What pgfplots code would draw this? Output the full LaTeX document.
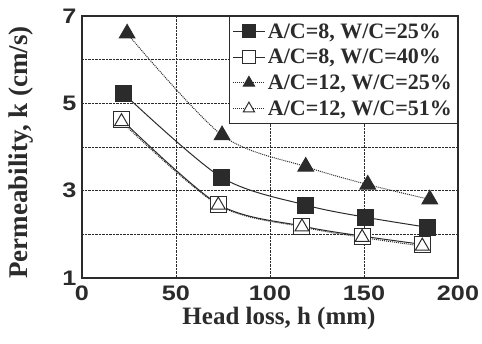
\documentclass[border=0pt]{standalone}
\usepackage{fontspec}
\setmainfont{Liberation Serif}
\newfontfamily\tickf{Liberation Sans}[FakeStretch=1.2]
\newfontfamily\legb{Liberation Serif}[UprightFont={* Bold}]
\usepackage{pgfplots}
\pgfplotsset{compat=1.18}
\definecolor{ink}{gray}{0.17}

\begin{document}
\begin{tikzpicture}
\begin{axis}[
  scale only axis, width=376pt, height=262pt,
  xmin=0, xmax=200, ymin=1, ymax=7,
  xtick={0,50,100,150,200}, ytick={1,3,5,7}, minor ytick={2,4,6},
  grid=both,
  major grid style={ink, densely dotted, line width=0.8pt},
  minor grid style={ink, densely dotted, line width=0.8pt},
  major tick length=0pt, minor tick length=0pt,
  axis line style={ink, line width=1.5pt},
  /pgf/number format/assume math mode=true,
  tick label style={font=\tickf\bfseries\fontsize{21}{21}\selectfont, text=ink},
  xticklabel style={yshift=-4pt},
  yticklabel style={xshift=-2pt},
  xlabel={Head loss, h (mm)}, ylabel={Permeability, k (cm/s)},
  every axis x label/.style={at={(axis description cs:0.524,-0.153)}, anchor=center,
    font=\bfseries\fontsize{25}{25}\selectfont, text=ink},
  every axis y label/.style={at={(axis description cs:-0.162,0.479)}, rotate=90, anchor=center,
    font=\bfseries\fontsize{27}{27}\selectfont, text=ink},
  legend style={at={(rel axis cs:1,1)}, anchor=north east, draw=ink, line width=1.2pt,
    font=\legb\fontsize{22}{22}\selectfont, text=ink,
    nodes={inner xsep=2.5pt, inner ysep=4.8pt}, row sep=0pt, inner xsep=3pt, inner ysep=2pt},
  legend cell align=left,
  legend image code/.code={\draw[mark repeat=2,mark phase=2, mark size=6.5pt] plot coordinates {(0pt,0pt) (16pt,0pt) (32pt,0pt)};},
]
\addplot[ink, line width=1pt, smooth, mark=square*, mark size=8pt, mark options={solid, fill=ink}]
  coordinates {(22,5.23) (74,3.31) (119,2.67) (151,2.39) (184,2.16)};
\addlegendentry{A/C=8, W/C=25\%}
\addplot[ink, line width=1pt, smooth, mark=square*, mark size=8pt, mark options={solid, fill=white}]
  coordinates {(21,4.63) (72.5,2.69) (117,2.19) (149,1.96) (181,1.77)};
\addlegendentry{A/C=8, W/C=40\%}
\addplot[ink, line width=1pt, densely dotted, smooth, mark=triangle*, mark size=9pt, mark options={solid, fill=ink}]
  coordinates {(24,6.6) (74.5,4.27) (119,3.55) (152,3.14) (185,2.80)};
\addlegendentry{A/C=12, W/C=25\%}
\addplot[ink, line width=1pt, densely dotted, smooth, mark=triangle*, mark size=8pt, mark options={solid, fill=white}]
  coordinates {(21,4.58) (72.5,2.67) (117,2.17) (149,1.93) (181,1.73)};
\addlegendentry{A/C=12, W/C=51\%}
\end{axis}
\pgfresetboundingbox
\path[use as bounding box] (-82pt,-65pt) rectangle (400pt,278pt);
\end{tikzpicture}
\end{document}
